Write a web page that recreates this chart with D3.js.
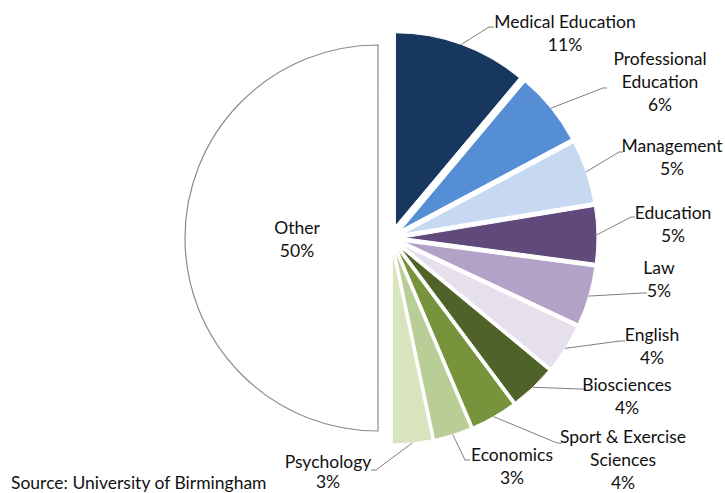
<!DOCTYPE html>
<html>
<head>
<meta charset="utf-8">
<script src="https://cdn.jsdelivr.net/npm/d3@7"></script>
<style>
  body { margin: 0; background: #fff; }
  svg { display: block; }
</style>
</head>
<body>
<svg class="chart"></svg>
<script>
// Share of subjects (percent)
const subjects = ['Medical Education', 'Professional Education', 'Management', 'Education', 'Law',
  'English', 'Biosciences', 'Sport & Exercise Sciences', 'Economics', 'Psychology', 'Other'];
const shares = [11.1, 6.1, 5.2, 4.7, 4.9, 4.0, 3.8, 3.8, 3.1, 3.3, 50];
const shareLabels = ['11%', '6%', '5%', '5%', '5%', '4%', '4%', '4%', '3%', '3%', '50%'];
const colors = ['#17375e', '#558ed5', '#c6d9f1', '#604a7b', '#b3a2c7',
  '#e6e0ec', '#4f6228', '#77933c', '#b9cd96', '#d7e4bd', '#ffffff'];

// Label layout (text lines, text centre, leader elbow and end)
const labelLines = [
  ['Medical Education'], ['Professional', 'Education'], ['Management'], ['Education'], ['Law'],
  ['English'], ['Biosciences'], ['Sport & Exercise', 'Sciences'], ['Economics'], ['Psychology'], ['Other']
];
const labelPos = [
  { x: 565, y: 22, elbow: [489, 27], end: [494, 27] },
  { x: 660, y: 59, elbow: [603, 88], end: [607, 88] },
  { x: 672, y: 146, elbow: [619, 152], end: [623, 152] },
  { x: 673, y: 213, elbow: [631, 217], end: [635, 217] },
  { x: 659, y: 268, elbow: [643, 293], end: [647, 293] },
  { x: 652, y: 335, elbow: [620, 341], end: [625, 341] },
  { x: 627, y: 385, elbow: [581, 389], end: [585, 389] },
  { x: 623, y: 437, elbow: [557, 443], end: [562, 443] },
  { x: 512, y: 455, elbow: [465, 460], end: [470, 460] },
  { x: 328, y: 462, elbow: [376, 470], end: [371, 470] },
  { x: 297, y: 228, elbow: null, end: null }
];

const svgWidth = 725;
const svgHeight = 493;
const cx = 391, cy = 238;
const radius = 193;
const explode = 13;
const lineHeight = 23;

const svg = d3.select('.chart')
  .attr('width', svgWidth)
  .attr('height', svgHeight)
  .style('font-family', 'Lato, "Noto Sans", sans-serif');

const data = subjects.map((s, i) => ({ name: s, value: shares[i], i: i }));

const pie = d3.pie()
  .sort(null)
  .value(d => d.value);

const arc = d3.arc()
  .innerRadius(0)
  .outerRadius(radius);

const arcs = pie(data);

// offset for exploded slices
function offset(d) {
  const mid = (d.startAngle + d.endAngle) / 2;
  return [cx + explode * Math.sin(mid), cy - explode * Math.cos(mid)];
}

const chart = svg.append('g');

chart.selectAll('path.slice')
  .data(arcs)
  .enter()
  .append('path')
  .attr('class', 'slice')
  .attr('transform', d => 'translate(' + offset(d) + ')')
  .attr('d', arc)
  .attr('fill', d => colors[d.data.i])
  .attr('stroke', d => d.data.name === 'Other' ? '#8c8c8c' : '#ffffff')
  .attr('stroke-width', d => d.data.name === 'Other' ? 1.2 : 1);

// leader lines from the middle of the arc
chart.selectAll('polyline.leader')
  .data(arcs.filter(d => labelPos[d.data.i].elbow))
  .enter()
  .append('polyline')
  .attr('class', 'leader')
  .attr('fill', 'none')
  .attr('stroke', '#7f7f7f')
  .attr('stroke-width', 1)
  .attr('points', d => {
    const mid = (d.startAngle + d.endAngle) / 2;
    const o = offset(d);
    const start = [o[0] + radius * Math.sin(mid), o[1] - radius * Math.cos(mid)];
    const p = labelPos[d.data.i];
    return [start, p.elbow, p.end].map(q => q.join(',')).join(' ');
  });

// labels
const labels = chart.selectAll('text.label')
  .data(arcs)
  .enter()
  .append('text')
  .attr('class', 'label')
  .attr('text-anchor', 'middle')
  .attr('font-size', '17.5px')
  .attr('fill', '#111');

labels.each(function (d) {
  const p = labelPos[d.data.i];
  const lines = labelLines[d.data.i].concat([shareLabels[d.data.i]]);
  const lh = d.data.name === 'Psychology' ? 20 : lineHeight;
  const t = d3.select(this);
  lines.forEach((line, k) => {
    t.append('tspan')
      .attr('x', p.x)
      .attr('y', p.y + k * lh)
      .attr('dy', '0.35em')
      .text(line);
  });
});

// source note
svg.append('text')
  .attr('x', 11)
  .attr('y', 483)
  .attr('dy', '0.35em')
  .attr('font-size', '17.5px')
  .attr('fill', '#111')
  .text('Source: University of Birmingham');
</script>
</body>
</html>
